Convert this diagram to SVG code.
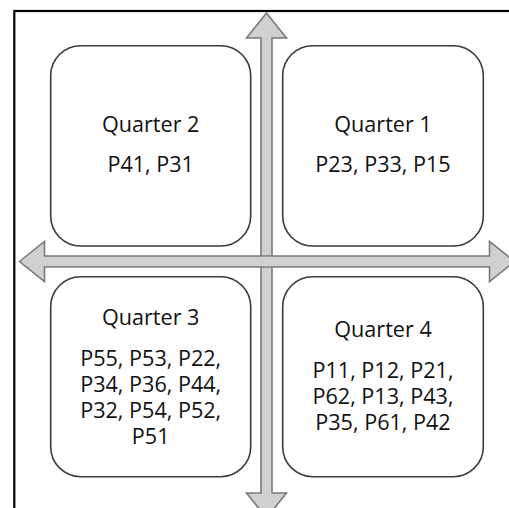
<svg xmlns="http://www.w3.org/2000/svg" width="509" height="508" viewBox="0 0 509 508">
<style>
.box{fill:#ffffff;stroke:#3c3c3c;stroke-width:1.6}
.arrow{fill:#d0d0d0;stroke:#7a7a7a;stroke-width:1.6;stroke-linejoin:miter}
.t{font-family:"Open Sans","Noto Sans",sans-serif;font-size:21.6px;fill:#111111;text-anchor:middle}
</style>
<rect x="0" y="0" width="509" height="508" fill="#ffffff"/>
<rect id="frame" x="14.3" y="11" width="600" height="600" fill="none" stroke="#000000" stroke-width="2.2"/>
<g id="connectors">
<polygon class="arrow" points="266.5,13 286.5,38 272,38 272,493 286.5,493 266.5,518 246.5,493 261,493 261,38 246.5,38"/>
<polygon class="arrow" points="19.5,261.5 44.5,241.5 44.5,256 489.5,256 489.5,241.5 514.5,261.5 489.5,281.5 489.5,267 44.5,267 44.5,281.5"/>
<rect x="261.8" y="256.8" width="9.4" height="9.4" fill="#d0d0d0"/>
</g>
<g id="q2">
<rect class="box" x="50.7" y="45.7" width="200" height="200.3" rx="30"/>
<text class="t" x="150.7" y="132.3">Quarter 2</text>
<text class="t" x="150.7" y="171.7">P41, P31</text>
</g>
<g id="q1">
<rect class="box" x="282.7" y="45.7" width="200.6" height="200.3" rx="30"/>
<text class="t" x="383" y="132.3">Quarter 1</text>
<text class="t" x="383" y="171.7">P23, P33, P15</text>
</g>
<g id="q3">
<rect class="box" x="50.7" y="276.7" width="200" height="200" rx="30"/>
<text class="t" x="150.7" y="324.7">Quarter 3</text>
<text class="t" x="150.7" y="365.7">P55, P53, P22,</text>
<text class="t" x="150.7" y="391.7">P34, P36, P44,</text>
<text class="t" x="150.7" y="417.7">P32, P54, P52,</text>
<text class="t" x="150.7" y="443.7">P51</text>
</g>
<g id="q4">
<rect class="box" x="282.7" y="276.7" width="200.6" height="200" rx="30"/>
<text class="t" x="383" y="337.3">Quarter 4</text>
<text class="t" x="383" y="377.7">P11, P12, P21,</text>
<text class="t" x="383" y="403.7">P62, P13, P43,</text>
<text class="t" x="383" y="429.7">P35, P61, P42</text>
</g>
</svg>
